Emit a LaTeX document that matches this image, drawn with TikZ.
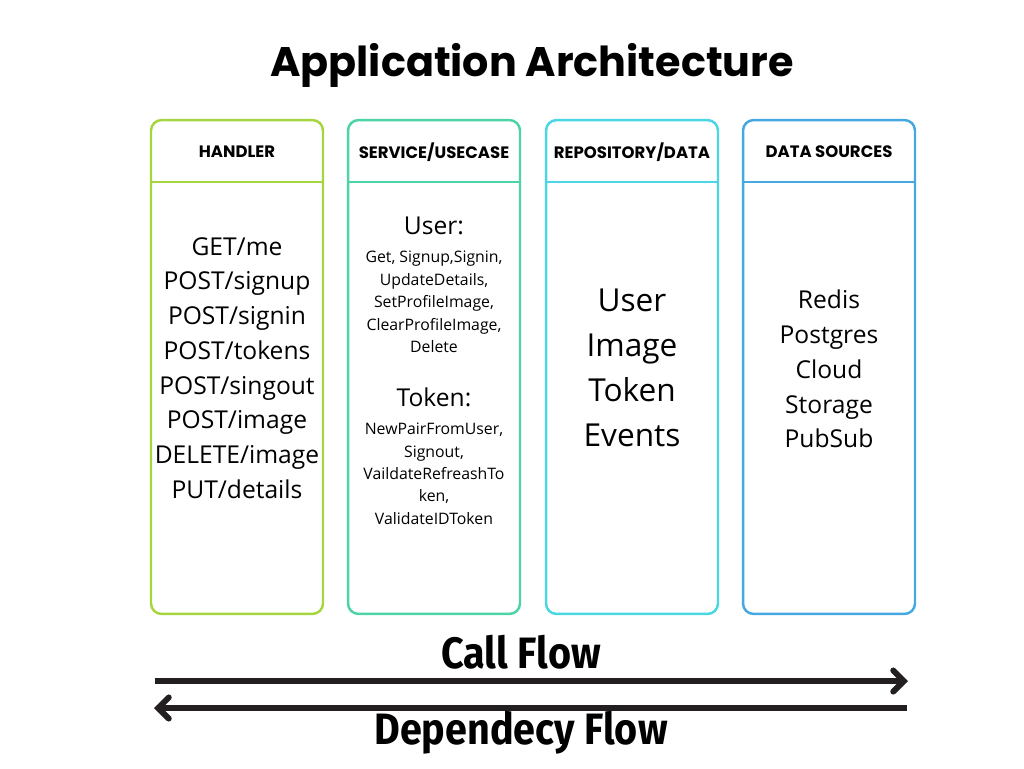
\documentclass[tikz,border=0pt]{standalone}
\usepackage{fontspec}
\setmainfont{Open Sans}
\newfontfamily\titlefont{Poppins}
\newfontfamily\condfont[FakeStretch=0.9]{Fira Sans}
\usetikzlibrary{arrows.meta}
\definecolor{handlergreen}{HTML}{A6D63F}
\definecolor{serviceteal}{HTML}{4ED3A4}
\definecolor{repocyan}{HTML}{4AD6E2}
\definecolor{sourceblue}{HTML}{45A8E0}
\definecolor{inkgray}{HTML}{231F20}
\tikzset{
  column/.style={draw=#1, line width=1.4pt, rounded corners=6pt,
    minimum width=3.44cm, minimum height=9.88cm, inner sep=0pt},
  colhead/.style={font=\titlefont\bfseries\fontsize{9.4}{11}\selectfont},
  colbody/.style={align=center, font=\fontsize{14}{19.8}\selectfont},
  flowarrow/.style={line width=3.4pt, color=inkgray,
    -{Straight Barb[length=6pt, width=12pt, line cap=round]}},
}
\begin{document}
\begin{tikzpicture}[x=0.02cm, y=-0.02cm]
  \useasboundingbox (0, 0) rectangle (1024, 768);

  % Title
  \node [font=\titlefont\bfseries\fontsize{23.5}{28}\selectfont] (title)
        at (532, 65) {Application Architecture};

  % Handler
  \node [column=handlergreen] (handler) at (237, 367) {};
  \draw [handlergreen, line width=1.4pt] (151, 182) -- (323, 182);
  \node [colhead] (handlerhead) at (237, 152) {HANDLER};
  \node [colbody] (handlerbody) at (237, 368)
        {GET/me\\POST/signup\\POST/signin\\POST/tokens\\POST/singout\\%
         POST/image\\DELETE/image\\PUT/details};

  % Service / Usecase
  \node [column=serviceteal] (service) at (434, 367) {};
  \draw [serviceteal, line width=1.4pt] (348, 182) -- (520, 182);
  \node [colhead] (servicehead) at (434, 152) {SERVICE/USECASE};
  \node [align=center, font=\fontsize{9}{12.8}\selectfont] (servicebody)
        at (434, 371)
        {{\fontsize{14}{16}\selectfont User:}\\[3pt]
         Get, Signup,Signin,\\UpdateDetails,\\SetProfileImage,\\%
         ClearProfileImage,\\Delete\\[18pt]
         {\fontsize{14}{16}\selectfont Token:}\\[3pt]
         NewPairFromUser,\\Signout,\\VaildateRefreashTo\\ken,\\%
         ValidateIDToken};

  % Repository / Data
  \node [column=repocyan] (repository) at (632, 367) {};
  \draw [repocyan, line width=1.4pt] (546, 182) -- (718, 182);
  \node [colhead] (repositoryhead) at (632, 152) {REPOSITORY/DATA};
  \node [align=center, font=\fontsize{18}{25.5}\selectfont]
        (repositorybody) at (632, 368) {User\\Image\\Token\\Events};

  % Data Sources
  \node [column=sourceblue] (sources) at (829, 367) {};
  \draw [sourceblue, line width=1.4pt] (743, 182) -- (915, 182);
  \node [colhead] (sourceshead) at (829, 152) {DATA SOURCES};
  \node [colbody] (sourcesbody) at (829, 369)
        {Redis\\Postgres\\Cloud\\Storage\\PubSub};

  % Flows
  \coordinate (callstart) at (155, 681);
  \coordinate (callend) at (908, 681);
  \coordinate (depstart) at (907, 708);
  \coordinate (depend) at (154, 708);
  \draw [flowarrow] (callstart) -- (callend);
  \draw [flowarrow] (depstart) -- (depend);
  \node [font=\condfont\bfseries\fontsize{25}{30}\selectfont] (callflow)
        at (521, 652) {Call Flow};
  \node [font=\condfont\bfseries\fontsize{25}{30}\selectfont] (depflow)
        at (521, 733) {Dependecy Flow};
\end{tikzpicture}
\end{document}
